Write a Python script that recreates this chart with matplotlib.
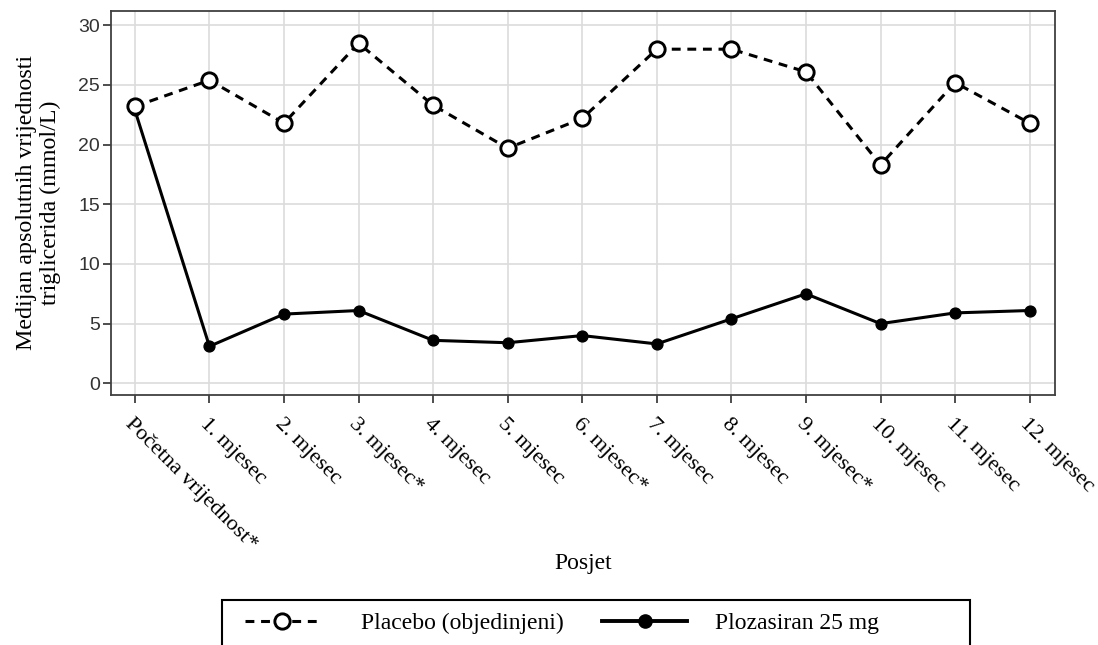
import matplotlib
matplotlib.use("Agg")
import matplotlib.pyplot as plt
from matplotlib.patches import Rectangle
from matplotlib.lines import Line2D

visits = ["Početna vrijednost*", "1. mjesec", "2. mjesec", "3. mjesec*",
          "4. mjesec", "5. mjesec", "6. mjesec*", "7. mjesec", "8. mjesec",
          "9. mjesec*", "10. mjesec", "11. mjesec", "12. mjesec"]
placebo = [23.2, 25.4, 21.8, 28.5, 23.3, 19.7, 22.2, 28.0, 28.0, 26.1, 18.3, 25.2, 21.8]
plozasiran = [22.9, 3.1, 5.8, 6.1, 3.6, 3.4, 4.0, 3.3, 5.4, 7.5, 5.0, 5.9, 6.1]
yticks = [0, 5, 10, 15, 20, 25, 30]

SERIF = "Liberation Serif"
SANS = "Liberation Sans"

W, H = 1098, 645
fig = plt.figure(figsize=(W / 100, H / 100), dpi=100)
ax = fig.add_axes([111 / W, 1 - 395 / H, (1055 - 111) / W, (395 - 11) / H])

x = list(range(len(visits)))
ax.plot(x, plozasiran, color="black", lw=2.2, marker="o", ms=7.8,
        mfc="black", mec="black", zorder=3)
ax.plot(x, placebo, color="black", lw=2.2, dashes=(2.9, 2.2), marker="o",
        ms=11, mfc="white", mec="black", mew=2.1, zorder=4)

ax.set_xlim(-0.32, 12.34)
ax.set_ylim(-0.98, 31.2)
ax.set_yticks(yticks)
ax.set_xticks(x)
ax.grid(True, color="#dcdcdc", lw=1.2)
ax.set_axisbelow(True)
for s in ax.spines.values():
    s.set_color("#404040")
    s.set_linewidth(1.3)
ax.tick_params(axis="both", direction="out", length=6, width=1.3, color="#404040")
ax.tick_params(axis="y", labelsize=14, labelcolor="#333333", pad=2)
for lab in ax.get_yticklabels():
    lab.set_fontfamily(SANS)

ax.set_xticklabels(visits, rotation=-45, ha="left", va="top",
                   rotation_mode="anchor", fontsize=16.2, fontfamily=SERIF)
ax.tick_params(axis="x", pad=8)

ax.set_ylabel("Medijan apsolutnih vrijednosti\ntriglicerida (mmol/L)",
              fontsize=17.3, fontfamily=SERIF, labelpad=12, linespacing=1.2)
fig.text(583 / W, 1 - 563 / H, "Posjet", ha="center", va="center",
         fontsize=17, fontfamily=SERIF)

# legend box running off the bottom edge
fig.patches.append(Rectangle((222 / W, -0.05), (970 - 222) / W, 0.05 + (645 - 600) / H,
                             transform=fig.transFigure, fill=False,
                             edgecolor="black", lw=1.5))
h_pl = Line2D([], [], color="black", lw=2.2, dashes=(2.9, 2.2), marker="o",
              ms=11, mfc="white", mec="black", mew=2.1)
h_pz = Line2D([], [], color="black", lw=2.8, marker="o", ms=9.5,
              mfc="black", mec="black")
fs = 17
fig.legend([h_pl], ["Placebo (objedinjeni)"], loc="center left",
           bbox_to_anchor=(245 / W, 1 - 623 / H), frameon=False,
           borderpad=0, borderaxespad=0, handlelength=3.1,
           handletextpad=1.8, prop={"family": SERIF, "size": fs})
fig.legend([h_pz], ["Plozasiran 25 mg"], loc="center left",
           bbox_to_anchor=(602 / W, 1 - 623 / H), frameon=False,
           borderpad=0, borderaxespad=0, handlelength=3.6,
           handletextpad=1.2, prop={"family": SERIF, "size": fs})

fig.savefig("out.png", dpi=100)
